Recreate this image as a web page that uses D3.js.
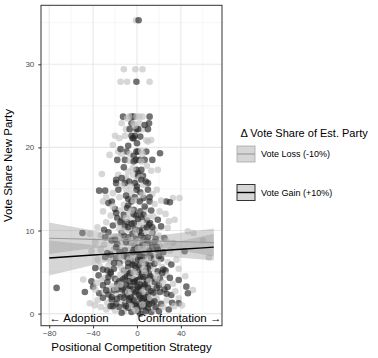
<!DOCTYPE html>
<html>
<head>
<meta charset="utf-8">
<script src="https://cdn.jsdelivr.net/npm/d3@7/dist/d3.min.js"></script>
<style>
  body { margin: 0; background: #fff; }
  svg { display: block; font-family: "Liberation Sans", Arial, Helvetica, sans-serif; }
</style>
</head>
<body>
<svg width="378" height="358"></svg>
<script>
//tick values
var xTicks = [-80, -40, 0, 40],
    xMinor = [-60, -20, 20, 60],
    yTicks = [0, 10, 20, 30],
    yMinor = [5, 15, 25, 35];

//legend
var legendTitle = "\u0394 Vote Share of Est. Party",
    legendLabels = ["Vote Loss (-10%)", "Vote Gain (+10%)"];

//fitted lines and confidence bands
var fitX = [-80, -60, -40, -20, 0, 20, 40, 60, 70];
var lossFit = [9.08, 9.01, 8.94, 8.87, 8.80, 8.73, 8.66, 8.59, 8.55],
    lossLow = [7.18, 7.54, 7.88, 8.16, 8.25, 8.02, 7.60, 7.12, 6.87],
    lossHigh = [10.98, 10.48, 10.00, 9.58, 9.35, 9.44, 9.72, 10.06, 10.23];
var gainFit = [6.70, 6.87, 7.05, 7.22, 7.39, 7.57, 7.74, 7.91, 8.00],
    gainLow = [4.60, 5.22, 5.85, 6.42, 6.79, 6.87, 6.74, 6.51, 6.40],
    gainHigh = [8.80, 8.52, 8.25, 8.02, 7.99, 8.27, 8.74, 9.31, 9.60];

//observations: [strategy, vote share, shade] (shade 0 light, 2 dark)
var points = [
  [-1,35.3,0],[1.5,35.3,2],
  [-12,29.4,0],[-1.5,29.4,0],[5,29.4,0],
  [-15,27.9,0],[-9,27.9,0],[-0.5,27.9,2],[11.5,27.9,0],
  [-12.7,23.7,2],[-5,23.7,2],[-3,23.7,2],[-0.5,23.7,0],[5,23.7,0],[11.5,23.7,2],[-7,23.7,0],[2,23.7,0],
  [-14,22.9,0],[-5,22.9,2],[2.5,22.9,0],[11,22.9,2],[-3,22.9,0],
  [-10,22.2,0],[-6.6,22.2,2],[-0.5,22.2,2],[5,22.2,0],[10,22.2,2],[1,22.2,2],
  [-20,21.4,0],[-11,21.4,0],[-5,21.4,2],[-2,21.4,2],[-3,21.1,2],[-16,21.1,0],[-4,21.1,2],
  [8.5,20.85,0],[13,20.9,0],[10,20.7,0],
  [-17,19.5,0],[-9.6,19.5,2],[-0.5,19.5,2],[1,19.5,2],[8.5,19.5,2],[21,19.3,2],[4,19.6,0],
  [-25,19.1,0],[-14,19.2,0],[-6.6,19.2,0],[5,19.2,0],[-3,19.0,2],
  [-18,18.5,2],[-11,18.5,2],[-6.6,18.4,0],[-1,18.5,2],[7,18.5,2],[14,18.5,2],[2,18.5,2],
  [-3,18.3,2],[4,18.3,0],
  [-0.5,17.3,2],[4,17.3,2],[13,17.2,0],[19,17.3,0],[1,16.9,2],[-8,17.1,0],
  [-32,16.8,0],[-17,16.7,0],[-3.6,16.7,0],[1,16.6,2],[5.5,16.6,2],[-10,16.4,0],[3,16.4,0],
  [-19,16.1,2],[-9.6,16.1,0],[-0.5,16.0,0],[4,16.1,2],[-7,15.9,2],
  [-19,15.7,2],[-11,15.7,2],[-2,15.7,2],[10,15.7,2],[6,15.5,0],[-14,15.4,0],
  [-34.5,14.8,2],[-29,14.8,2],[-17,14.9,2],[-9.6,14.9,0],[-0.5,14.9,2],[10,14.9,2],[18,14.9,0],[3,14.6,2],[-5,14.5,0],[14,14.4,0],
  [-28,14.0,0],[-16,14.0,0],[-2,14.0,2],[11.5,14.0,2],[26.7,13.5,2],[32.7,13.9,0],[38.8,13.9,0],[6,13.9,2],[-8,13.8,2],[1,13.7,0],
  [-31,13.5,0],[-23,13.5,2],[-5,13.5,2],[2.5,13.5,2],[11.5,13.5,2],[22,13.6,0],[30,13.4,2],[-26,13.3,2],[16,13.2,0],[-12,13.1,0],
  [-31,12.3,0],[20.6,12.3,0],[-20,12.6,2],[-15,12.4,0],[-9,12.7,2],[-3,12.5,2],[3,12.3,2],[8,12.6,0],[13,12.4,2],[26,12.0,0],
  [-24,11.8,0],[-18,11.5,2],[-12,11.9,2],[-6,11.4,0],[-1,11.8,2],[4,11.6,2],[9,11.2,2],[15,11.7,0],[19,11.3,2],[29,11.1,0],[34.3,11.3,0],[-28,11.0,0],[0,11.1,0],[-9,11.0,2],[12,10.9,2],
  [-36,10.4,0],[-22,10.6,2],[-16,10.2,0],[-11,10.5,2],[-5,10.8,2],[-2,10.2,2],[2,10.6,0],[6,10.3,2],[11,10.7,2],[16,10.1,0],[22,10.5,2],[28,10.3,0],[-30,10.1,2],[8,10.0,0],[-7,10.0,0],
  [-49.7,9.7,2],[-43,9.6,0],[-33,9.4,0],[-26,9.8,2],[-20,9.3,0],[-14,9.7,2],[-8,9.2,2],[-4,9.6,2],[0,9.3,0],[3,9.8,2],[7,9.5,0],[10,9.2,2],[14,9.7,2],[20,9.4,0],[25,9.1,2],[46.4,9.9,0],[51.5,9.7,0],[-24,9.0,0],[17,9.0,2],[-1,9.0,2],
  [-38,8.6,0],[-30,8.3,0],[-23,8.8,2],[-18,8.4,2],[-12,8.9,0],[-6,8.5,2],[-2,8.2,2],[1,8.7,0],[5,8.3,2],[9,8.8,2],[12,8.4,0],[16,8.6,2],[21,8.2,0],[27,8.7,0],[33,8.5,0],[60,8.8,0],[-9,8.1,0],[3,8.0,2],[14,8.0,2],[-15,8.0,0],
  [-41.5,7.5,0],[-33,7.7,0],[-27,7.3,2],[-21,7.8,0],[-16,7.4,2],[-11,7.6,2],[-7,7.2,0],[-3,7.7,2],[0,7.4,2],[4,7.8,0],[7,7.3,2],[11,7.6,2],[15,7.2,0],[19,7.7,2],[24,7.4,2],[30,7.6,0],[43.4,7.5,2],[-5,7.0,0],[9,7.0,0],[2,7.1,2],
  [-36,6.5,0],[-29,6.8,2],[-24,6.3,0],[-19,6.7,2],[-13,6.4,0],[-9,6.8,2],[-4,6.3,2],[-1,6.7,0],[3,6.4,2],[6,6.8,2],[10,6.3,0],[13,6.7,2],[17,6.4,0],[22,6.6,2],[28,6.2,0],[36,6.5,0],[65.5,6.75,0],[-16,6.1,2],[0,6.1,0],[8,6.0,2],
  [-34,5.7,0],[-38,5.5,2],[-31,5.3,2],[-26,5.8,0],[-21,5.4,2],[-17,5.9,0],[-12,5.2,2],[-8,5.6,2],[-5,5.1,0],[-2,5.8,2],[2,5.3,2],[5,5.7,0],[8,5.2,2],[12,5.8,2],[15,5.4,0],[19,5.1,2],[23,5.6,0],[26,5.2,2],[31.3,5.9,2],[38,5.4,0],[-10,5.0,0],[1,5.0,2],[-24,5.0,2],
  [-49,4.1,0],[-41.5,3.9,2],[-35,4.6,2],[-29,4.3,0],[-24,4.8,2],[-20,4.2,2],[-15,4.7,0],[-11,4.3,2],[-7,4.8,2],[-4,4.2,2],[-1,4.6,0],[2,4.1,2],[5,4.7,2],[8,4.3,0],[11,4.8,2],[14,4.2,2],[17,4.6,0],[21,4.2,2],[26.7,4.66,0],[30,4.3,2],[38,4.05,2],[44,4.5,0],[-32,4.0,0],[0,4.0,2],[9,4.0,2],[-18,4.0,0],
  [-73.3,3.1,2],[-40,3.25,2],[-37,3.7,0],[-31,3.4,2],[-27,3.8,2],[-22,3.3,0],[-18,3.6,2],[-14,3.2,2],[-10,3.7,0],[-6,3.3,2],[-3,3.8,2],[0,3.4,2],[3,3.7,0],[6,3.2,2],[9,3.6,2],[12,3.3,0],[16,3.8,2],[20,3.4,2],[24,3.7,0],[28,3.2,2],[33,3.6,0],[45,3.25,2],[51,2.85,0],[-8,3.0,2],[4,3.0,2],[-25,3.0,0],[14,3.0,0],
  [-47.5,2.6,2],[-34.5,2.45,2],[-38,2.9,0],[-30,2.7,0],[-26,2.3,2],[-21,2.8,2],[-17,2.4,0],[-13,2.9,2],[-9,2.2,2],[-5,2.6,0],[-2,2.3,2],[1,2.8,2],[4,2.4,2],[7,2.9,0],[10,2.3,2],[13,2.7,2],[17,2.2,0],[21,2.6,2],[25,2.9,2],[31.3,2.25,2],[35,2.7,0],[46.4,2.45,2],[-15,2.0,2],[0,2.0,0],[8,2.0,2],
  [-43,1.25,0],[-38.5,1.0,0],[-36,1.6,0],[-31,1.9,2],[-27,1.3,0],[-23,1.7,2],[-19,1.2,2],[-15,1.6,0],[-11,1.1,2],[-7,1.8,2],[-4,1.4,2],[-1,1.7,0],[2,1.2,2],[5,1.6,2],[8,1.1,0],[11,1.7,2],[14,1.3,2],[18,1.8,0],[22,1.2,2],[27,1.6,0],[32,1.3,2],[38,1.85,0],[38,1.25,2],[41,1.0,0],[-9,1.4,0],[3,1.9,2],
  [-33,0.8,0],[-28,0.5,0],[-24,0.9,2],[-20,0.4,0],[-16,0.8,2],[-12,0.3,0],[-8,0.7,2],[-5,0.2,2],[-2,0.6,0],[1,0.3,2],[4,0.8,2],[7,0.4,0],[10,0.7,2],[13,0.2,2],[16,0.6,0],[20,0.3,2],[24,0.8,0],[29,0.5,2],[34,0.9,0],[-14,0.1,2],[3,0.0,2],
  [-19,12.1,2],[-7,12.0,0],[6,11.9,2],[-14,11.2,2],[-3,10.9,2],[5,10.8,0],[-17,10.9,0],[2,10.0,2],[-12,9.4,2],[6,9.1,2],[-6,8.8,0],[10,8.5,2],[-19,8.0,2],[-2,7.9,2],[6,7.6,0],[-12,7.0,2],[12,7.0,2],[-7,6.5,0],[1,6.5,2],[16,6.0,2],
  [-4,5.9,2],[10,5.5,2],[-14,5.5,0],[-1,5.3,0],[4,4.5,2],[-9,4.5,2],[7,4.9,0],[-2,3.9,2],[12,4.5,2],[-16,3.9,2],[1,3.2,2],[-11,2.6,2],[-4,2.9,2],[11,3.9,0],[5,2.6,0],[-7,1.5,2],[9,1.4,2],[-2,1.0,2],[-18,2.9,2],[18,3.1,2],
  [-23,2.0,2],[15,2.5,2],[-26,4.4,2],[23,4.9,2],[-21,6.1,2],[19,6.2,0],[-10,3.5,2],[7,3.5,2],[-5,4.5,0],[2,5.8,2],[-12,1.9,2],[12,1.9,0],[-6,0.9,0],[6,0.9,2],[-29,9.2,2],[-17,9.3,0],[-1,9.9,0],[9,10.4,2],[-10,11.5,0],[-22,12.9,0],
  [7,12.9,2],[-8,13.0,2],[-3,13.6,0],[5,14.3,0],[-10,14.2,2],[-22,14.5,0],[0,15.3,2],[-6,15.3,0],[8,15.9,2],[-14,16.3,2],[-4,17.5,0],[9,17.8,0],[-12,17.6,2],[-15,19.8,2],[-22,20.3,0],[0,20.5,2],[-8,20.2,2],[3,21.3,2],[-2,22.6,0],[7,22.7,2],[-9,23.5,0],
  [-3,12.0,2],[1,11.4,2],[-8,10.4,2],[4,9.4,2],[-10,8.6,2],[8,8.1,0],[-4,7.4,2],[3,6.9,2],[-8,6.1,2],[5,6.2,0],[-1,5.5,2],[-6,4.9,2],[6,4.4,2],[-13,4.1,2],[3,3.5,2],[-7,3.9,2],
  [10,3.1,2],[-1,2.6,2],[-15,3.5,0],[2,2.2,2],[-6,2.0,2],[6,1.8,2],[-3,1.6,2],[0,0.9,2],[-10,0.9,2],[11,1.1,2],[-1,0.4,0],[8,0.3,2],[-18,1.8,2],[16,1.5,2],
  [-5,12.4,0],[10,11.6,0],[-13,10.0,0],[13,9.8,0],[-4,8.4,0],[1,7.8,0],[-15,6.8,0],[10,6.6,0],[-3,5.0,0],[6,5.4,0],[-20,3.1,0],[18,4.3,0],[-8,2.6,0],[5,1.1,0],
  [-15,11.0,2],[14,10.4,2],[-20,8.9,2],[18,8.0,2],[-24,7.1,2],[20,6.9,2],[-27,5.2,2],[24,5.3,2],[-28,2.8,2],[27,2.4,2],[-22,0.9,2],[17,0.8,2]
];

var shadeColors = ["#c2c2c2", "#7a7a7a", "#262626"];

//layout
var svg = d3.select("svg"),
    panel = { left: 41, right: 222, top: 5.3, bottom: 325.7 };

var x = d3.scaleLinear().domain([-87.5, 77.5]).range([panel.left, panel.right]);
var y = d3.scaleLinear().domain([-1.45, 37.1]).range([panel.bottom, panel.top]);

svg.append("defs").append("clipPath")
    .attr("id", "clip")
    .append("rect")
    .attr("x", panel.left).attr("y", panel.top)
    .attr("width", panel.right - panel.left)
    .attr("height", panel.bottom - panel.top);

//grid
var gGrid = svg.append("g");
gGrid.selectAll(".minx").data(xMinor).enter().append("line")
    .attr("x1", d => x(d)).attr("x2", d => x(d))
    .attr("y1", panel.top).attr("y2", panel.bottom)
    .attr("stroke", "#f0f0f0").attr("stroke-width", 0.6);
gGrid.selectAll(".miny").data(yMinor).enter().append("line")
    .attr("y1", d => y(d)).attr("y2", d => y(d))
    .attr("x1", panel.left).attr("x2", panel.right)
    .attr("stroke", "#f0f0f0").attr("stroke-width", 0.6);
gGrid.selectAll(".majx").data(xTicks).enter().append("line")
    .attr("x1", d => x(d)).attr("x2", d => x(d))
    .attr("y1", panel.top).attr("y2", panel.bottom)
    .attr("stroke", "#e8e8e8").attr("stroke-width", 1.1);
gGrid.selectAll(".majy").data(yTicks).enter().append("line")
    .attr("y1", d => y(d)).attr("y2", d => y(d))
    .attr("x1", panel.left).attr("x2", panel.right)
    .attr("stroke", "#e8e8e8").attr("stroke-width", 1.1);

var gData = svg.append("g").attr("clip-path", "url(#clip)");

//points
gData.selectAll("circle")
    .data(points)
    .enter().append("circle")
    .attr("cx", d => x(d[0]))
    .attr("cy", d => y(d[1]))
    .attr("r", 3.3)
    .attr("fill", d => shadeColors[d[2]])
    .attr("fill-opacity", 0.65);

//bands and lines
var band = d3.area()
    .x((d, i) => x(fitX[i]))
    .y0(d => y(d[0]))
    .y1(d => y(d[1]));
var line = d3.line()
    .x((d, i) => x(fitX[i]))
    .y(d => y(d));

gData.append("path")
    .datum(lossLow.map((v, i) => [v, lossHigh[i]]))
    .attr("d", band)
    .attr("fill", "#999").attr("fill-opacity", 0.4);
gData.append("path")
    .datum(gainLow.map((v, i) => [v, gainHigh[i]]))
    .attr("d", band)
    .attr("fill", "#999").attr("fill-opacity", 0.4);
gData.append("path")
    .datum(lossFit)
    .attr("d", line)
    .attr("fill", "none").attr("stroke", "#9a9a9a").attr("stroke-width", 1.1);
gData.append("path")
    .datum(gainFit)
    .attr("d", line)
    .attr("fill", "none").attr("stroke", "#000").attr("stroke-width", 1.4);

//annotations
svg.append("text")
    .attr("x", x(-80)).attr("y", y(-0.5)).attr("dy", "0.36em")
    .attr("font-size", 11.5).attr("fill", "#000")
    .text("\u2190 Adoption");
svg.append("text")
    .attr("x", x(77)).attr("y", y(-0.5)).attr("dy", "0.36em")
    .attr("text-anchor", "end")
    .attr("font-size", 11.5).attr("fill", "#000")
    .text("Confrontation \u2192");

//panel border
svg.append("rect")
    .attr("x", panel.left).attr("y", panel.top)
    .attr("width", panel.right - panel.left)
    .attr("height", panel.bottom - panel.top)
    .attr("fill", "none").attr("stroke", "#333").attr("stroke-width", 1);

//axes
var axisX = svg.append("g")
    .attr("transform", "translate(0," + panel.bottom + ")")
    .call(d3.axisBottom(x).tickValues(xTicks).tickSize(2.7).tickPadding(2));
var axisY = svg.append("g")
    .attr("transform", "translate(" + panel.left + ",0)")
    .call(d3.axisLeft(y).tickValues(yTicks).tickSize(2.7).tickPadding(4));
[axisX, axisY].forEach(function (g) {
    g.select(".domain").remove();
    g.selectAll("line").attr("stroke", "#333");
    g.selectAll("text")
        .attr("fill", "#4d4d4d")
        .attr("font-size", 8)
        .attr("font-family", "'Liberation Sans', Arial, Helvetica, sans-serif");
});

//axis titles
svg.append("text")
    .attr("x", (panel.left + panel.right) / 2).attr("y", 350.5)
    .attr("text-anchor", "middle")
    .attr("font-size", 11.5)
    .text("Positional Competition Strategy");
svg.append("text")
    .attr("transform", "translate(12," + (panel.top + panel.bottom) / 2 + ") rotate(-90)")
    .attr("text-anchor", "middle")
    .attr("font-size", 11.5)
    .text("Vote Share New Party");

//legend
var gLegend = svg.append("g");
gLegend.append("text")
    .attr("x", 240.5).attr("y", 137)
    .attr("font-size", 11)
    .text(legendTitle);
var keyStroke = ["#a8a8a8", "#333"],
    keyLine = ["#9a9a9a", "#000"],
    keyLineWidth = [1.1, 1.4],
    keyTop = [146, 184.5];
legendLabels.forEach(function (label, i) {
    var g = gLegend.append("g").attr("transform", "translate(237," + keyTop[i] + ")");
    g.append("rect")
        .attr("width", 18).attr("height", 16)
        .attr("fill", "#d6d6d6")
        .attr("stroke", keyStroke[i]).attr("stroke-width", i ? 1 : 0.8);
    g.append("line")
        .attr("x1", 0).attr("x2", 18).attr("y1", 8).attr("y2", 8)
        .attr("stroke", keyLine[i]).attr("stroke-width", keyLineWidth[i]);
    g.append("text")
        .attr("x", 24).attr("y", 8).attr("dy", "0.35em")
        .attr("font-size", 9)
        .text(label);
});
</script>
</body>
</html>
